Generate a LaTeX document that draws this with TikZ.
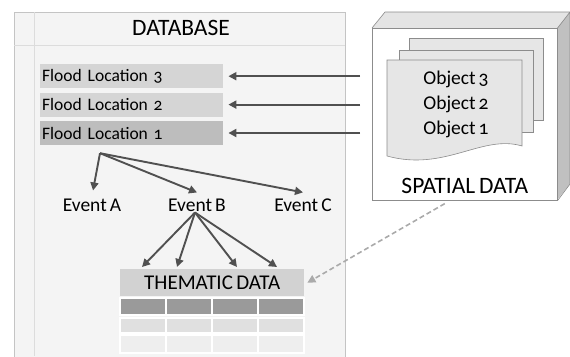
\documentclass[tikz,border=0pt]{standalone}
\usepackage{fontspec}
\setmainfont{Carlito}[Numbers=OldStyle,WordSpace=0.7]
\usetikzlibrary{arrows.meta,positioning,calc}
\definecolor{PanelGray}{HTML}{F4F4F4}
\definecolor{PanelLine}{HTML}{C4C4C4}
\definecolor{LocGray}{HTML}{D5D5D5}
\definecolor{LocDark}{HTML}{BDBDBD}
\definecolor{ArrowGray}{HTML}{505050}
\definecolor{HeadGray}{HTML}{D2D2D2}
\definecolor{RowDark}{HTML}{9A9A9A}
\definecolor{RowMid}{HTML}{E0E0E0}
\definecolor{RowLight}{HTML}{EEEEEE}
\definecolor{DashGray}{HTML}{AAAAAA}
\definecolor{CubeLine}{HTML}{8C8C8C}
\definecolor{SheetGray}{HTML}{E6E6E6}

\begin{document}
\begin{tikzpicture}[x=1pt,y=-1pt,node distance=4pt,
  loc/.style={fill=LocGray,text width=179pt,inner xsep=2pt,minimum height=24pt,align=left,font=\fontsize{17.5}{19}\selectfont},
  evt/.style={font=\fontsize{19.5}{21}\selectfont,inner sep=0pt},
  sheet/.style={draw=CubeLine,fill=SheetGray,line width=0.6pt},
  arr/.style={-{Triangle[length=8pt,width=8pt]},ArrowGray,line width=1.9pt}]
\useasboundingbox (0,0) rectangle (570,356);
\draw[PanelLine,fill=PanelGray] (14,360) -- (14,12) -- (345,12) -- (345,360);
\draw[PanelLine!60] (34,12) -- (34,356) (14,45) -- (345,45);
\node[font=\fontsize{23.5}{25}\selectfont] (dbtitle) at (181,28) {DATABASE};
\node[loc,anchor=north west] (loc3) at (40,64) {Flood Location 3};
\node[loc,below=of loc3] (loc2) {Flood Location 2};
\node[loc,fill=LocDark,below=of loc2] (loc1) {Flood Location 1};
\node[evt] (evA) at (92,205) {Event A};
\node[evt] (evB) at (197,205) {Event B};
\node[evt] (evC) at (303,205) {Event C};
\coordinate (fork) at ($(loc1.south west)+(60,8)$);
\draw[arr] (fork) -- ([xshift=1pt,yshift=8pt]evA.north);
\draw[arr] (fork) -- ([yshift=6pt]evB.north);
\draw[arr] (fork) -- ([yshift=6pt]evC.north);
\node[fill=HeadGray,minimum width=184pt,minimum height=27pt,inner sep=0pt,anchor=north west,font=\fontsize{21}{23}\selectfont] (thema) at (120,269) {THEMATIC DATA};
\foreach \t/\b/\c in {298/315/RowDark,318/333/RowMid,335/353/RowLight}
  \foreach \xa/\xb in {120/166,166/212,212/258,258/304}
    \draw[white,line width=1.2pt,fill=\c] (\xa,\t) rectangle (\xb,\b);
\foreach \dx in {22,57,117,157}
  \draw[arr] ([xshift=-2pt,yshift=-1pt]evB.south) -- ($(thema.north west)+(\dx,-2)$);
\fill[HeadGray!60] (372,28) -- ++(13,-16) -- ++(185,0) -- ++(-13,16) -- cycle;
\fill[CubeLine!55] (557,28) -- ++(13,-16) -- ++(0,172) -- ++(-13,16) -- cycle;
\node[draw=CubeLine,fill=white,line width=0.6pt,minimum width=185pt,minimum height=172pt,anchor=north west] (spatial) at (372,28) {};
\draw[CubeLine,line width=0.6pt] (spatial.north west) -- ++(13,-16) -- ++(185,0) -- (spatial.north east) (570,12) -- (570,184) -- (spatial.south east);
\node[font=\fontsize{23.5}{25}\selectfont,above=3pt of spatial.south] (spatiallbl) {SPATIAL DATA};
\draw[sheet] (409,38) rectangle (543,120);
\draw[sheet] (399,50) rectangle (533,132);
\draw[sheet] (387,60) -- (522,60) -- (522,146) .. controls (482,134) and (445,172) .. (387,156) -- cycle;
\node[font=\fontsize{19.5}{25}\selectfont,align=center] (objects) at (456,104) {Object 3\\Object 2\\Object 1};
\foreach \n in {loc3,loc2,loc1}
  \draw[arr] ($(spatial.west|-\n.east)+(-12,0)$) -- ([xshift=5pt]\n.east);
\draw[DashGray,line width=1.6pt,dash pattern=on 5pt off 3pt,-{Triangle[length=8pt,width=8pt]}] ([xshift=-20pt,yshift=-3pt]spatial.south) -- ([xshift=3pt]thema.east);
\end{tikzpicture}
\end{document}
